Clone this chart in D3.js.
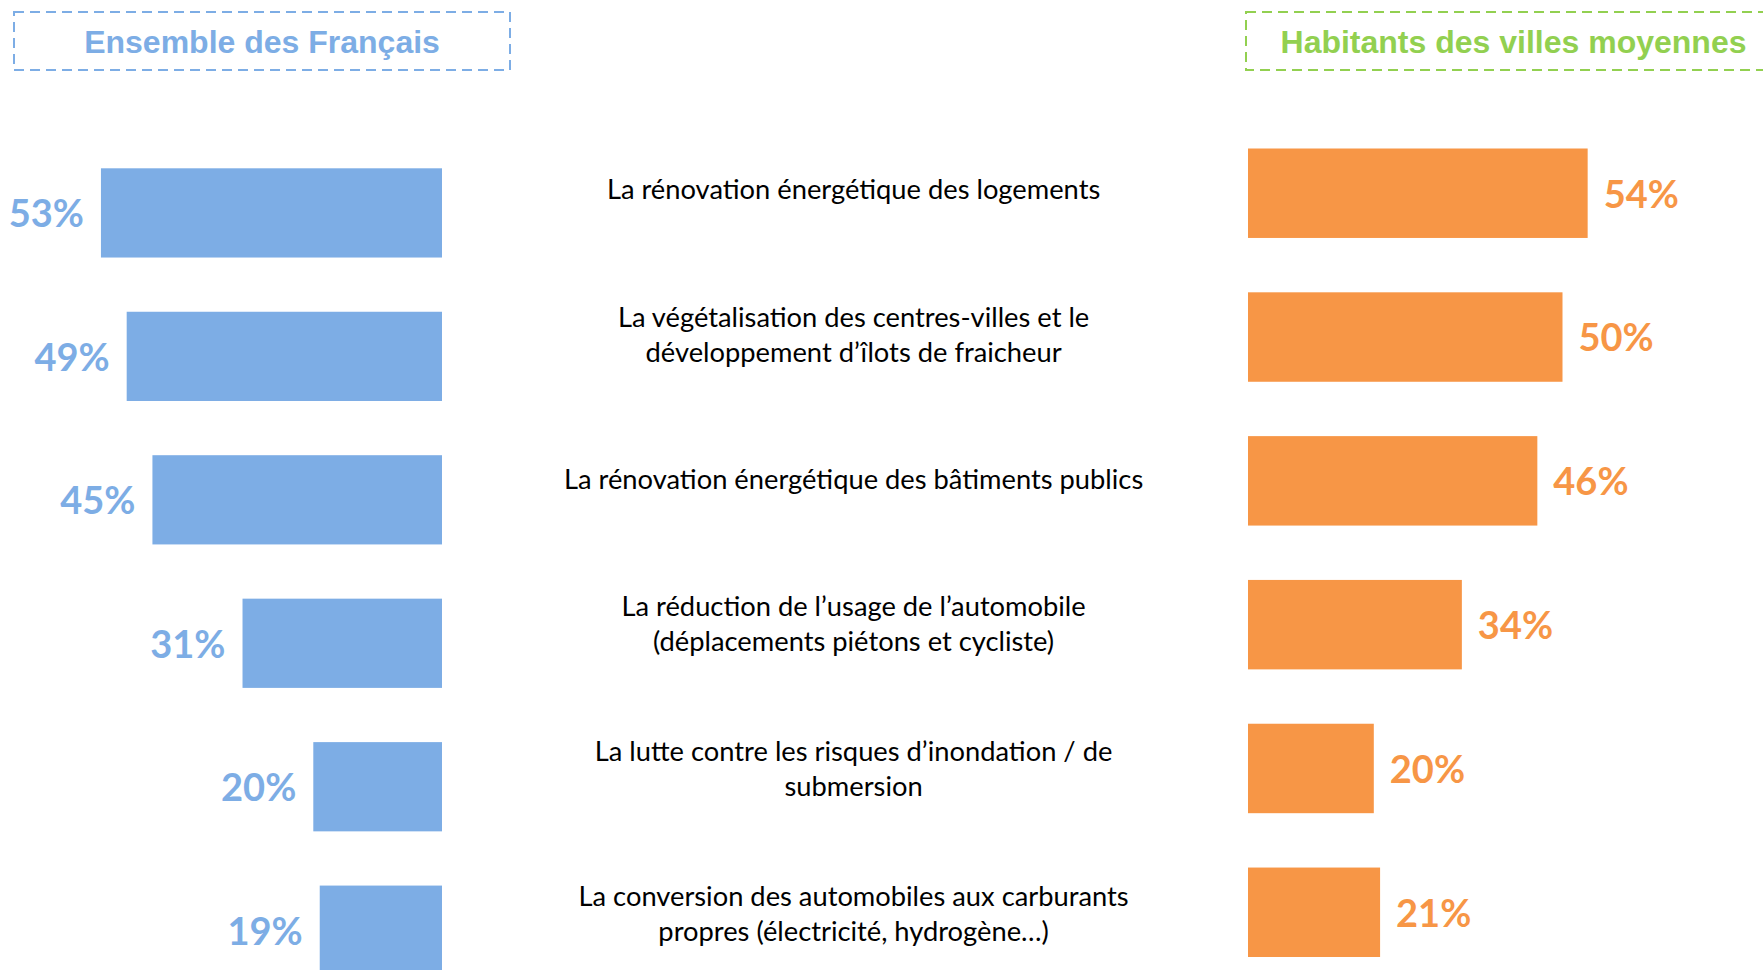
<!DOCTYPE html>
<html lang="fr">
<head>
<meta charset="utf-8">
<script src="https://cdn.jsdelivr.net/npm/d3@7"></script>
<style>
  html, body { margin: 0; padding: 0; background: #ffffff; overflow: hidden; }
  svg { display: block; }
</style>
</head>
<body>
<svg id="chart" width="1763" height="970"></svg>
<script>
// Priority actions, one entry per row (each entry = label lines)
const categories = [
  ["La rénovation énergétique des logements"],
  ["La végétalisation des centres-villes et le", "développement d’îlots de fraicheur"],
  ["La rénovation énergétique des bâtiments publics"],
  ["La réduction de l’usage de l’automobile", "(déplacements piétons et cycliste)"],
  ["La lutte contre les risques d’inondation / de", "submersion"],
  ["La conversion des automobiles aux carburants", "propres (électricité, hydrogène…)"]
];

// Share of respondents (%)
const ensembleFrancais = [53, 49, 45, 31, 20, 19];
const villesMoyennes   = [54, 50, 46, 34, 20, 21];

const panelTitles = ["Ensemble des Français", "Habitants des villes moyennes"];

const BLUE = "#7dade5";
const ORANGE = "#f79646";
const GREEN = "#92d050";

const svg = d3.select("#chart");
const rows = d3.range(categories.length);

// Left panel grows leftwards from a common baseline
const xLeft = d3.scaleLinear().domain([0, 60]).range([442, 442 - 60 * 6.435]);
const xRight = d3.scaleLinear().domain([0, 60]).range([1248, 1248 + 60 * 6.29]);

const pad = 0.378;
const yLeft = d3.scaleBand().domain(rows).range([168.3, 974.8]).paddingInner(pad).paddingOuter(0);
const yRight = d3.scaleBand().domain(rows).range([148.5, 957]).paddingInner(pad).paddingOuter(0);
// Vertical centres of the middle-column labels
const yLabel = d3.scalePoint().domain(rows).range([189.7, 914.2]);

// Panel headers in dashed frames
const headers = [
  { text: panelTitles[0], x0: 14, x1: 510, color: BLUE },
  { text: panelTitles[1], x0: 1246, x1: 1781, color: GREEN }
];
const head = svg.append("g").selectAll("g").data(headers).join("g");
head.append("rect")
  .attr("x", d => d.x0).attr("y", 12)
  .attr("width", d => d.x1 - d.x0).attr("height", 58)
  .attr("fill", "none")
  .attr("stroke", d => d.color)
  .attr("stroke-width", 2)
  .attr("stroke-dasharray", "10,6");
head.append("text")
  .attr("x", d => (d.x0 + d.x1) / 2).attr("y", 53)
  .attr("text-anchor", "middle")
  .attr("font-family", "'Liberation Sans', Arial, sans-serif")
  .attr("font-weight", "bold")
  .attr("font-size", 32)
  .attr("fill", d => d.color)
  .text(d => d.text);

// Left bars
svg.append("g").selectAll("rect").data(ensembleFrancais).join("rect")
  .attr("x", d => xLeft(d))
  .attr("y", (d, i) => yLeft(i))
  .attr("width", d => xLeft(0) - xLeft(d))
  .attr("height", yLeft.bandwidth())
  .attr("fill", BLUE);

svg.append("g").selectAll("text").data(ensembleFrancais).join("text")
  .attr("x", d => xLeft(d) - 17)
  .attr("y", (d, i) => yLeft(i) + yLeft.bandwidth() / 2)
  .attr("dy", "0.38em")
  .attr("text-anchor", "end")
  .attr("font-family", "Lato, 'Open Sans', sans-serif")
  .attr("font-weight", "bold")
  .attr("font-size", 38)
  .attr("fill", BLUE)
  .text(d => d + "%");

// Right bars
svg.append("g").selectAll("rect").data(villesMoyennes).join("rect")
  .attr("x", xRight(0))
  .attr("y", (d, i) => yRight(i))
  .attr("width", d => xRight(d) - xRight(0))
  .attr("height", yRight.bandwidth())
  .attr("fill", ORANGE);

svg.append("g").selectAll("text").data(villesMoyennes).join("text")
  .attr("x", d => xRight(d) + 16)
  .attr("y", (d, i) => yRight(i) + yRight.bandwidth() / 2)
  .attr("dy", "0.38em")
  .attr("text-anchor", "start")
  .attr("font-family", "Lato, 'Open Sans', sans-serif")
  .attr("font-weight", "bold")
  .attr("font-size", 38)
  .attr("fill", ORANGE)
  .text(d => d + "%");

// Category labels in the middle column
const lineH = 35;
const labels = svg.append("g").selectAll("text").data(categories).join("text")
  .attr("text-anchor", "middle")
  .attr("font-family", "Lato, 'Open Sans', sans-serif")
  .attr("font-size", 27.3)
  .attr("fill", "#000000");
labels.each(function(lines, i) {
  const cy = yLabel(i);
  const first = cy - (lines.length - 1) * lineH / 2;
  d3.select(this).selectAll("tspan").data(lines).join("tspan")
    .attr("x", 853.6)
    .attr("y", (l, k) => first + k * lineH)
    .attr("dy", "0.35em")
    .text(l => l);
});
</script>
</body>
</html>
